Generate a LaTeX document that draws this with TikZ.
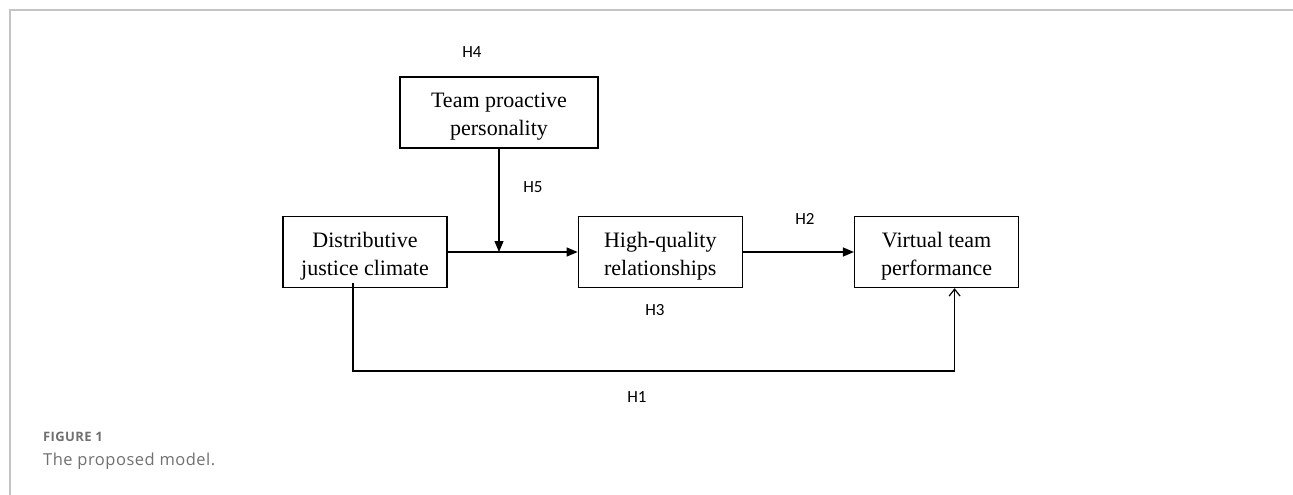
\documentclass[tikz,border=0pt]{standalone}
\usepackage{fontspec}
\setmainfont{Liberation Serif}
\newfontfamily\hypfont{Carlito}
\newfontfamily\capfont[LetterSpace=3]{Open Sans}
\usepackage{xcolor}
\usetikzlibrary{arrows.meta,positioning}
\definecolor{framegray}{HTML}{C4C4C4}
\definecolor{capgray}{HTML}{707070}

\begin{document}
\begin{tikzpicture}[x=1pt, y=-1pt,
      box/.style={draw, line width=1.3pt, align=center, minimum width=164pt,
                  minimum height=71pt, inner sep=0pt, text height=46pt, text depth=0pt,
                  font=\fontsize{22}{28}\selectfont},
      hyp/.style={font=\hypfont\fontsize{17}{20}\selectfont},
      arr/.style={-{Triangle[length=11pt, width=9pt]}, line width=1.2pt},
      barb/.style={-{Straight Barb[length=7pt, width=11pt]}, line width=1.2pt}]
    \useasboundingbox (0,0) rectangle (1293,495);
    % frame of the figure panel
    \draw[framegray, line width=2pt] (9.5,495) -- (9.5,10) -- (1293,10);
    % boxes
    \node[box, minimum width=198pt] (team) at (499,112.5) {Team proactive\\personality};
    \node[box] (climate) at (365,252) {Distributive\\justice climate};
    \node[box, right=130pt of climate] (quality) {High-quality\\relationships};
    \node[box, right=111pt of quality] (virtual) {Virtual team\\performance};
    \coordinate (join) at (team.south |- climate.east);
    \coordinate (low) at (0,371);
    % paths
    \draw[arr] (team) -- (join);
    \draw[arr] (climate) -- (quality);
    \draw[arr] (quality) -- (virtual);
    \draw[barb] ([xshift=-12pt, yshift=5pt]climate.south) |- ([xshift=18pt]virtual.south |- low)
      -- ([xshift=18pt]virtual.south);
    % hypothesis labels
    \node[hyp] (h4) at (472,52) {H4};
    \node[hyp] (h5) at (533,187) {H5};
    \node[hyp] (h2) at (805,219) {H2};
    \node[hyp] (h3) at (655,310) {H3};
    \node[hyp] (h1) at (637,397) {H1};
    % caption
    \node[anchor=west, inner sep=0pt, text=capgray,
          font=\capfont\bfseries\fontsize{13}{15}\selectfont] (fig) at (43,437) {FIGURE 1};
    \node[anchor=west, inner sep=0pt, text=capgray,
          font=\capfont\fontsize{16.5}{19}\selectfont] (cap) at (43,461) {The proposed model.};
  \end{tikzpicture}
\end{document}
